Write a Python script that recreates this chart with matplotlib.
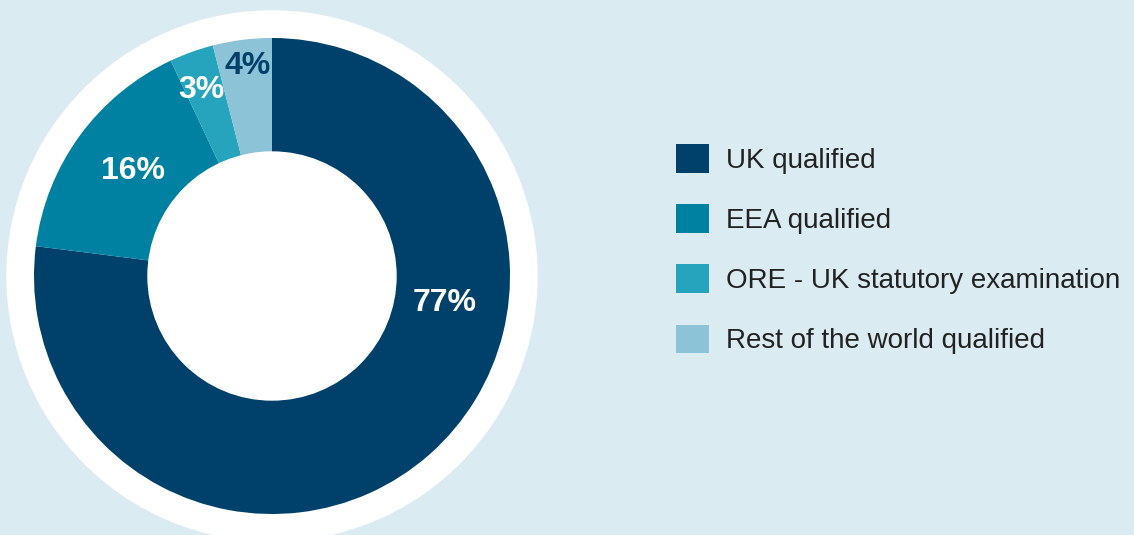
import matplotlib.pyplot as plt
from matplotlib.patches import Circle

plt.rcParams['font.family'] = ['Liberation Sans', 'DejaVu Sans']

categories = ['UK qualified', 'EEA qualified', 'ORE - UK statutory examination',
              'Rest of the world qualified']
shares = [77, 16, 3, 4]
colors = ['#00416b', '#0081a1', '#26a3bd', '#8cc3d6']
label_colors = ['white', 'white', 'white', '#00416b']
label_pos = [(445, 303), (133, 171), (201, 90), (248, 66)]

bg = '#daebf2'
cx, cy = 272, 276
r_out = 238
r_in = 124

fig = plt.figure(figsize=(11.34, 5.35), dpi=100)
fig.patch.set_facecolor(bg)
ax = fig.add_axes([0, 0, 1, 1])
ax.set_facecolor(bg)

ax.add_patch(Circle((cx, cy), 265, color='white', zorder=0))
# y axis is flipped below, so counterclock in data = clockwise on screen
wedges, _ = ax.pie(shares, colors=colors, startangle=-90, counterclock=True,
                   center=(cx, cy), radius=r_out,
                   wedgeprops=dict(width=r_out - r_in, linewidth=0))
ax.add_patch(Circle((cx, cy), r_in, color='white', zorder=3))

for s, (x, y), c in zip(shares, label_pos, label_colors):
    ax.text(x, y, f'{s}%', color=c, fontsize=23, fontweight='bold',
            ha='center', va='center', zorder=5)

ax.set_xlim(0, 1134)
ax.set_ylim(535, 0)
ax.set_aspect('equal')
ax.axis('off')

leg = ax.legend(wedges, categories, loc='upper left', bbox_to_anchor=(0.574, 0.777),
                frameon=False, fontsize=20, handlelength=1.19, handleheight=1.19,
                labelspacing=1.1, handletextpad=0.6, labelcolor='#222222')

fig.savefig('out.png', dpi=100, facecolor=bg)
